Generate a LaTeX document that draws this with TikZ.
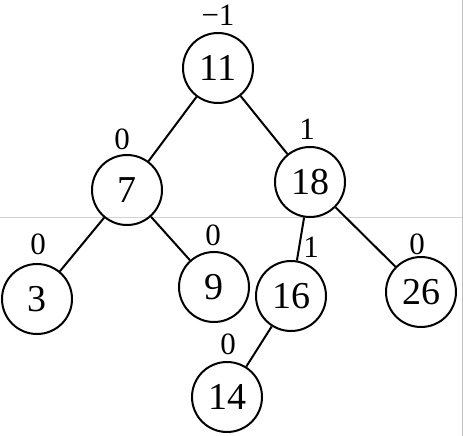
\documentclass[tikz,border=0pt]{standalone}
\usepackage{fontspec}
\setmainfont{Liberation Serif}
\begin{document}
\begin{tikzpicture}[x=1pt,y=-1pt,
  vertex/.style={circle,draw,line width=2pt,minimum size=70pt,inner sep=0pt,font=\fontsize{38}{38}\selectfont},
  bal/.style={inner sep=0pt,font=\fontsize{31}{31}\selectfont},
  edge/.style={line width=2pt}]
\useasboundingbox (0,0) rectangle (463,436);
\draw[gray!35,line width=0.8pt] (0,217) -- (463,217);
\draw[gray!50,line width=0.8pt] (462,0) -- (462,436);
\node[vertex] (n11) at (218,68) {11};
\node[vertex] (n7) at (127,190) {7};
\node[vertex] (n18) at (310,182) {18};
\node[vertex] (n3) at (37,299) {3};
\node[vertex] (n9) at (214,287) {9};
\node[vertex] (n16) at (291,296) {16};
\node[vertex] (n26) at (421,292) {26};
\node[vertex] (n14) at (227,397) {14};
\draw[edge] (n11) -- (n7);
\draw[edge] (n11) -- (n18);
\draw[edge] (n7) -- (n3);
\draw[edge] (n7) -- (n9);
\draw[edge] (n18) -- (n16);
\draw[edge] (n18) -- (n26);
\draw[edge] (n16) -- (n14);
\node[bal] (b11) at (218,15) {−1};
\node[bal] (b7) at (122,139) {0};
\node[bal] (b18) at (307,129) {1};
\node[bal] (b3) at (38,244) {0};
\node[bal] (b9) at (213,235) {0};
\node[bal] (b16) at (311,247) {1};
\node[bal] (b26) at (417,244) {0};
\node[bal] (b14) at (228,344) {0};
\end{tikzpicture}
\end{document}
